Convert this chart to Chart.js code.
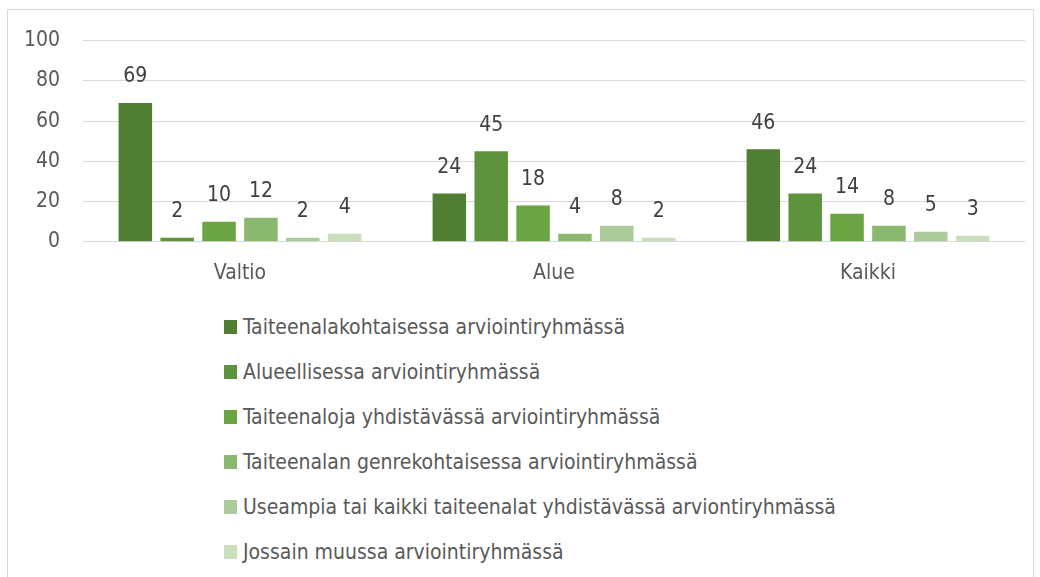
<!DOCTYPE html>
<html>
<head>
<meta charset="utf-8">
<script src="https://cdn.jsdelivr.net/npm/chart.js@4/dist/chart.umd.min.js"></script>
<style>
  body { margin: 0; background: #fff; }
  #frame {
    position: absolute; left: 7px; top: 9px; width: 1027px; height: 620px;
    border: 1px solid #d9d9d9; box-sizing: border-box;
  }
  #wrap { position: absolute; left: 0px; top: -5px; width: 1026px; height: 292px; }
  #legend { position: absolute; left: 216px; top: 294px; margin: 0; padding: 0; list-style: none; }
  #legend li {
    height: 45px; display: flex; align-items: center;
    font-family: "DejaVu Sans Condensed", "Liberation Sans Narrow", sans-serif;
    font-size: 21px; color: #595959; white-space: nowrap;
  }
  #legend span.box { display: inline-block; width: 13px; height: 14px; margin-right: 6px; }
</style>
</head>
<body>
<div id="frame">
  <div id="wrap"><canvas id="chart"></canvas></div>
  <ul id="legend"></ul>
</div>
<script>
const categories = ['Valtio', 'Alue', 'Kaikki'];

const seriesNames = [
  'Taiteenalakohtaisessa arviointiryhmässä',
  'Alueellisessa arviointiryhmässä',
  'Taiteenaloja yhdistävässä arviointiryhmässä',
  'Taiteenalan genrekohtaisessa arviointiryhmässä',
  'Useampia tai kaikki taiteenalat yhdistävässä arviontiryhmässä',
  'Jossain muussa arviointiryhmässä'
];

const taiteenalakohtainen = [69, 24, 46];
const alueellinen = [2, 45, 24];
const taiteenalojaYhdistava = [10, 18, 14];
const genrekohtainen = [12, 4, 8];
const useampia = [2, 8, 5];
const muu = [4, 2, 3];

const yTicks = [0, 20, 40, 60, 80, 100];

const colors = ['#507e32', '#5e933d', '#6ba543', '#8ab86f', '#accb9b', '#c9dfbc'];

const seriesValues = [taiteenalakohtainen, alueellinen, taiteenalojaYhdistava, genrekohtainen, useampia, muu];

const fontFamily = '"DejaVu Sans Condensed", "Liberation Sans Narrow", sans-serif';

// arvot pylväiden yläpuolelle
const valueLabels = {
  id: 'valueLabels',
  afterDatasetsDraw(chart) {
    const ctx = chart.ctx;
    ctx.save();
    ctx.font = '21px ' + fontFamily;
    ctx.fillStyle = '#404040';
    ctx.textAlign = 'center';
    ctx.textBaseline = 'middle';
    chart.data.datasets.forEach((ds, i) => {
      const meta = chart.getDatasetMeta(i);
      meta.data.forEach((bar, j) => {
        ctx.fillText(ds.data[j], bar.x, bar.y - 26);
      });
    });
    ctx.restore();
  }
};

const ctx = document.getElementById('chart').getContext('2d');

const chart = new Chart(ctx, {
  type: 'bar',
  data: {
    labels: categories,
    datasets: seriesNames.map((name, i) => ({
      label: name,
      data: seriesValues[i],
      backgroundColor: colors[i],
      borderWidth: 0,
      barPercentage: 0.8,
      categoryPercentage: 0.8
    }))
  },
  options: {
    responsive: true,
    maintainAspectRatio: false,
    animation: false,
    layout: { padding: { top: 24, right: 9, left: 0, bottom: 0 } },
    plugins: {
      legend: { display: false },
      tooltip: { enabled: false }
    },
    scales: {
      x: {
        grid: { display: false },
        border: { display: false },
        ticks: { color: '#595959', font: { size: 21, family: fontFamily }, padding: 11 }
      },
      y: {
        min: 0,
        max: 100,
        afterBuildTicks: (scale) => { scale.ticks = yTicks.map(v => ({ value: v })); },
        afterFit: (scale) => { scale.width = 75; },
        grid: { color: '#d9d9d9', lineWidth: 1, drawTicks: false },
        border: { display: false },
        ticks: { color: '#595959', font: { size: 21, family: fontFamily }, padding: 23 }
      }
    }
  },
  plugins: [valueLabels]
});

// legenda pystysuuntaisena listana
const legend = document.getElementById('legend');
chart.data.datasets.forEach((ds) => {
  const li = document.createElement('li');
  const box = document.createElement('span');
  box.className = 'box';
  box.style.background = ds.backgroundColor;
  li.appendChild(box);
  li.appendChild(document.createTextNode(ds.label));
  legend.appendChild(li);
});
</script>
</body>
</html>
